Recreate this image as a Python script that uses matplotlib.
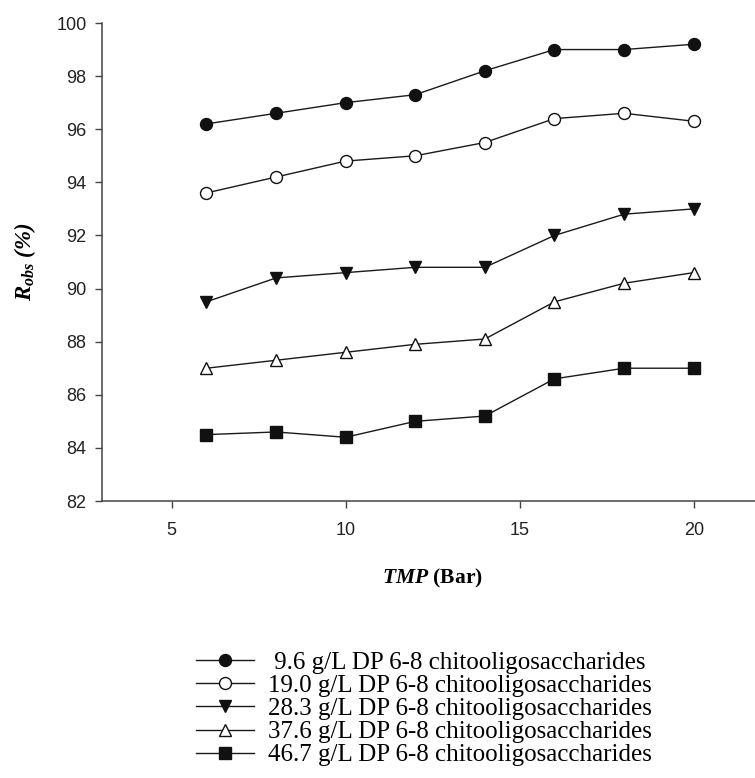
import matplotlib
matplotlib.use("Agg")
import matplotlib.pyplot as plt

plt.rcParams['mathtext.fontset'] = 'custom'
plt.rcParams['mathtext.rm'] = 'Liberation Serif'
plt.rcParams['mathtext.it'] = 'Liberation Serif:italic'
plt.rcParams['mathtext.bf'] = 'Liberation Serif:bold'
plt.rcParams['mathtext.bfit'] = 'Liberation Serif:bold:italic'

# ---- data ----
tmp = [6, 8, 10, 12, 14, 16, 18, 20]
concentrations = [9.6, 19.0, 28.3, 37.6, 46.7]
r_96 = [96.2, 96.6, 97.0, 97.3, 98.2, 99.0, 99.0, 99.2]
r_190 = [93.6, 94.2, 94.8, 95.0, 95.5, 96.4, 96.6, 96.3]
r_283 = [89.5, 90.4, 90.6, 90.8, 90.8, 92.0, 92.8, 93.0]
r_376 = [87.0, 87.3, 87.6, 87.9, 88.1, 89.5, 90.2, 90.6]
r_467 = [84.5, 84.6, 84.4, 85.0, 85.2, 86.6, 87.0, 87.0]
series = [r_96, r_190, r_283, r_376, r_467]
label_suffix = "g/L DP 6-8 chitooligosaccharides"
x_ticks = [5, 10, 15, 20]
y_ticks = [82, 84, 86, 88, 90, 92, 94, 96, 98, 100]

# ---- styles ----
styles = [
    dict(marker='o', mfc='#111111', mec='#111111', ms=8.6),
    dict(marker='o', mfc='white', mec='#111111', ms=8.6),
    dict(marker='v', mfc='#111111', mec='#111111', ms=9.3),
    dict(marker='^', mfc='white', mec='#111111', ms=9.3),
    dict(marker='s', mfc='#111111', mec='#111111', ms=8.0),
]

W, H = 755, 778
fig = plt.figure(figsize=(W / 100, H / 100), dpi=100)
ax = fig.add_axes([102 / W, (H - 501) / H, 661.3 / W, 478 / H])

for vals, conc, st in zip(series, concentrations, styles):
    ax.plot(tmp, vals, color='#1a1a1a', lw=1.0, mew=1.0,
            label=f"{conc:4.1f} {label_suffix}", clip_on=False, **st)

ax.set_xlim(3, 22)
ax.set_ylim(82, 100)
ax.set_xticks(x_ticks)
ax.set_yticks(y_ticks)
for s in ['top', 'right']:
    ax.spines[s].set_visible(False)
for s in ['left', 'bottom']:
    ax.spines[s].set_color('#444444')
    ax.spines[s].set_linewidth(1.1)
ax.tick_params(direction='out', length=5, width=1.0, color='#444444',
               labelsize=13, labelcolor='#222222', pad=6)
ax.tick_params(axis='x', pad=10)
for lab in ax.get_xticklabels() + ax.get_yticklabels():
    lab.set_family('Liberation Sans')

ax.set_xlabel(r'$\mathbfit{TMP}$ (Bar)', family='Liberation Serif',
              fontweight='bold', fontsize=15.5, labelpad=20)
ax.set_ylabel(r'$\mathbfit{R}_{\mathbfit{obs}}$ $\mathbfit{(\%)}$',
              family='Liberation Serif', fontsize=16.5, labelpad=13)

fig.legend(loc='upper left', bbox_to_anchor=(196 / W, 1 - 651 / H),
           frameon=False, prop={'family': 'Liberation Serif', 'size': 18},
           handlelength=2.3, handletextpad=0.58, labelspacing=0.03,
           borderpad=0, borderaxespad=0, numpoints=1)

fig.savefig('out.png', dpi=100)
